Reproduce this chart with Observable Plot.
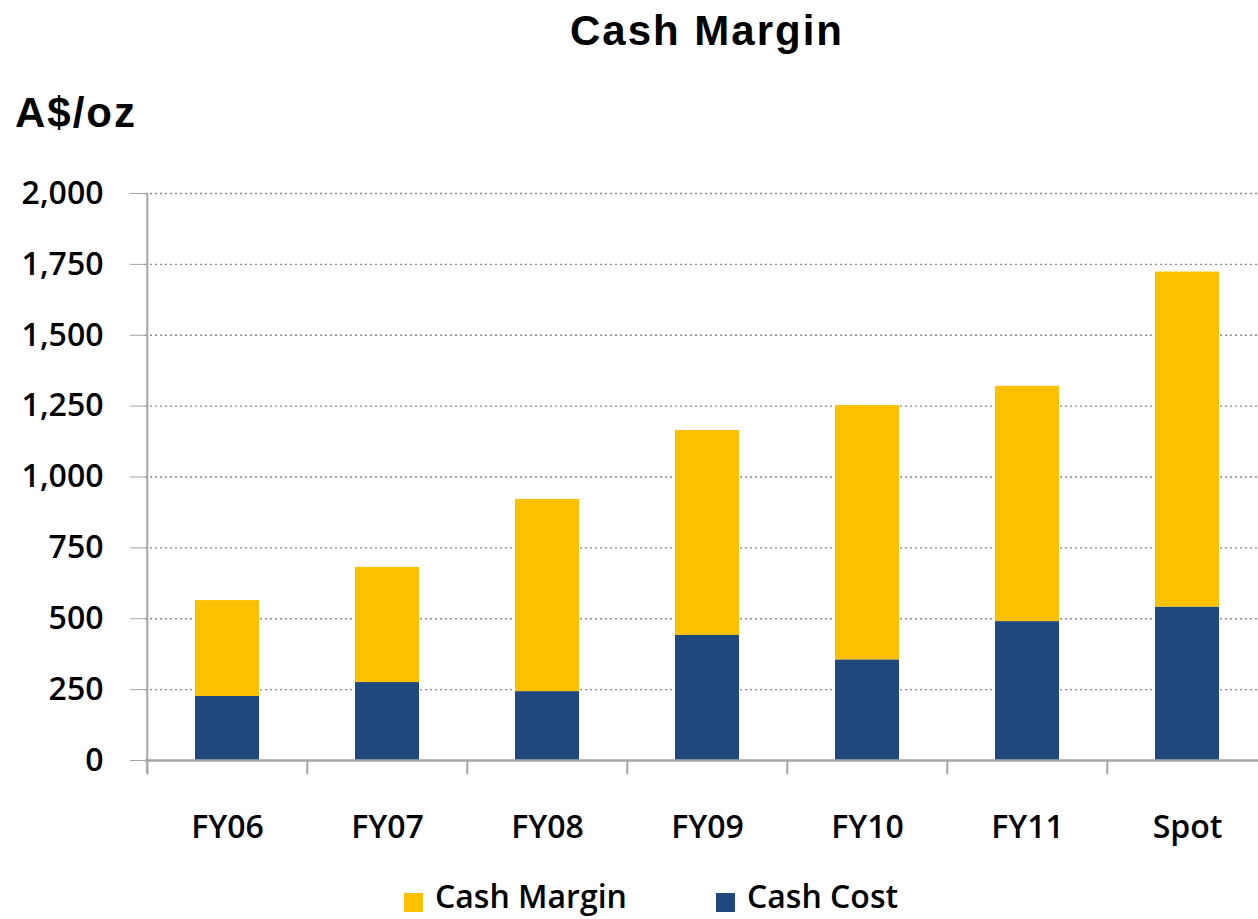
<!DOCTYPE html>
<html>
<head>
<meta charset="utf-8">
<script src="https://cdn.jsdelivr.net/npm/d3@7"></script>
<script src="https://cdn.jsdelivr.net/npm/@observablehq/plot@0.6"></script>
<style>
  html, body { margin: 0; padding: 0; background: #fff; }
  #wrap { position: relative; width: 1258px; height: 919px; overflow: hidden; }
  #wrap svg { position: absolute; left: 0; top: 0; }
  .title { position: absolute; font-family: "Liberation Sans", Arial, sans-serif; font-weight: bold; line-height: 1; white-space: nowrap; color: #000; }
  .legend { position: absolute; font-family: "Open Sans", sans-serif; font-size: 32px; font-weight: 600; line-height: 1; white-space: nowrap; color: #000; }
  .swatch { position: absolute; width: 19px; height: 19px; }
</style>
</head>
<body>
<div id="wrap"></div>
<script>
const categories = ["FY06", "FY07", "FY08", "FY09", "FY10", "FY11", "Spot"];
const cashCost   = [226, 275, 243, 441, 355, 490, 541];
const cashMargin = [338, 406, 678, 723, 897, 830, 1182];
const yTicks = [0, 250, 500, 750, 1000, 1250, 1500, 1750, 2000];
const seriesNames = ["Cash Cost", "Cash Margin"];
const seriesColors = ["#1F497D", "#FFC000"];
const legendOrder = ["Cash Margin", "Cash Cost"];

const rows = [];
categories.forEach((c, i) => {
  rows.push({cat: c, series: "Cash Cost", value: cashCost[i]});
  rows.push({cat: c, series: "Cash Margin", value: cashMargin[i]});
});

const x0 = 145, x1 = 1268;
const step = (x1 - x0) / categories.length;

const chart = Plot.plot({
  width: 1258,
  height: 919,
  marginTop: 193,
  marginBottom: 159,
  marginLeft: 145,
  marginRight: 0,
  style: {fontFamily: "Open Sans, sans-serif", fontSize: "32px", fontWeight: 600, color: "#000", background: "transparent"},
  x: {domain: categories, range: [x0, x1], paddingInner: 0.6, paddingOuter: 0.3, label: null},
  y: {domain: [0, 2000], label: null},
  color: {domain: seriesNames, range: seriesColors},
  marks: [
    Plot.ruleY(yTicks.filter(d => d > 0), {stroke: "#8a8a8a", strokeWidth: 1.3, strokeDasharray: "2,3"}),
    Plot.barY(rows, Plot.stackY({x: "cat", y: "value", fill: "series", order: seriesNames})),
    Plot.ruleY([0], {stroke: "#a6a6a6", strokeWidth: 2.5}),
    Plot.ruleX(categories, {x: d => d, dx: -step / 2, y1: -50, y2: 0, stroke: "#a6a6a6", strokeWidth: 2}),
    Plot.ruleX([categories[0]], {x: d => d, dx: -step / 2, y1: -50, y2: 2000, stroke: "#a6a6a6", strokeWidth: 2}),
    Plot.axisY({ticks: yTicks, tickSize: 15, tickPadding: 27, tickFormat: d3.format(","), stroke: "#a6a6a6", fill: "#000", label: null}),
    Plot.axisX({tickSize: 0, tickPadding: 55, fill: "#000", label: null})
  ]
});

const wrap = document.getElementById("wrap");
wrap.appendChild(chart);

function addDiv(cls, text, css) {
  const d = document.createElement("div");
  d.className = cls;
  d.textContent = text;
  Object.assign(d.style, css);
  wrap.appendChild(d);
  return d;
}
addDiv("title", "Cash Margin", {left: "0px", width: "1414px", textAlign: "center", top: "10px", fontSize: "42px", letterSpacing: "2px"});
addDiv("title", "A$/oz", {left: "15px", top: "92px", fontSize: "42px", letterSpacing: "2px"});

const legendX = [404, 716];
legendOrder.forEach((name, i) => {
  const sw = document.createElement("div");
  sw.className = "swatch";
  Object.assign(sw.style, {left: legendX[i] + "px", top: "893px", background: seriesColors[seriesNames.indexOf(name)]});
  wrap.appendChild(sw);
  addDiv("legend", name, {left: (legendX[i] + 31) + "px", top: "880px"});
});
</script>
</body>
</html>
